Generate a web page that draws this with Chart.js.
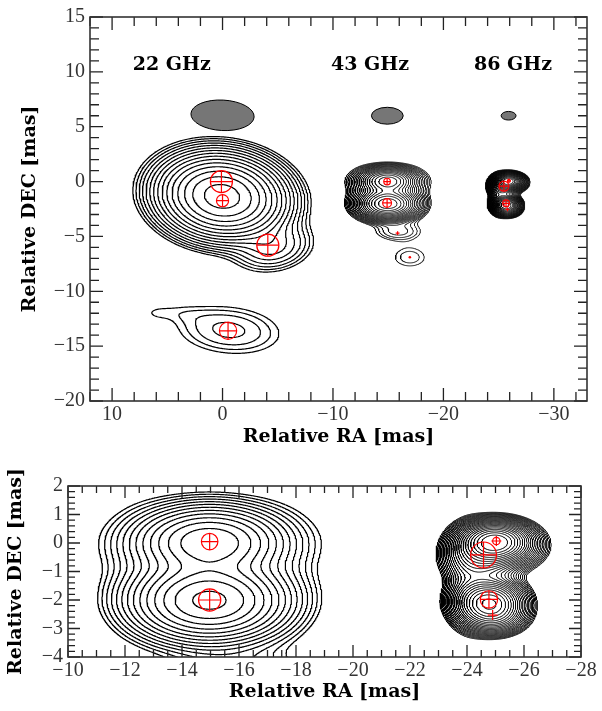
<!DOCTYPE html>
<html>
<head>
<meta charset="utf-8">
<script src="https://cdn.jsdelivr.net/npm/chart.js@4.4.1/dist/chart.umd.min.js"></script>
<style>
  body { margin: 0; background: #fff; }
  canvas { position: absolute; left: 0; }
</style>
</head>
<body>
<canvas id="topChart" width="602" height="460" style="top:0"></canvas>
<canvas id="bottomChart" width="602" height="251" style="top:460px"></canvas>
<script>
// ---- values ----

// tick labels
const topXTicks = [10, 0, -10, -20, -30];
const topYTicks = [15, 10, 5, 0, -5, -10, -15, -20];
const botXTicks = [-10, -12, -14, -16, -18, -20, -22, -24, -26, -28];
const botYTicks = [2, 1, 0, -1, -2, -3, -4];

// band labels and restoring beams (x, y, major, minor, pa) in mas / deg
const bandNames = ['22 GHz', '43 GHz', '86 GHz'];
const bandNameX = [4.6, -13.35, -26.3];
const bandNameY = [10.6, 10.6, 10.6];
const beams = [
    [0.0, 6.04, 5.73, 2.76, 3],
    [-14.92, 6.0, 2.88, 1.53, 0],
    [-25.9, 6.0, 1.35, 0.78, 0]
];

// brightness blobs: x, y, amplitude, sigma_major, sigma_minor, pa(deg)
const blobs22 = [
    [0.05, -1.35, 0.78, 2.55, 1.7, 7],
    [-4.6, -6.0, 0.03, 1.9, 1.15, -10],
    [-0.6, -13.55, 0.0158, 2.97, 1.37, 5],
    [4.0, -11.95, 0.0035, 2.0, 0.65, 5],
    [6.0, -12.0, 0.003, 0.9, 0.4, 0]
];
const blobs43 = [
    [-14.97, 0.02, 0.6, 1.2, 0.6, 0],
    [-14.96, -2.02, 1.0, 1.25, 0.66, 0],
    [-15.0, -1.0, 0.008, 2.0, 1.4, 0],
    [-15.0, 0.1, 0.02, 2.2, 0.7, 0],
    [-12.6, -1.0, 0.01, 0.9, 1.5, 0],
    [-17.4, -1.1, 0.01, 0.9, 1.5, 0],
    [-15.9, -4.55, 0.022, 1.5, 0.6, 0],
    [-16.96, -6.9, 0.015, 1.44, 0.87, 0]
];
const blobs86 = [
    [-25.0, 0.05, 1.0, 0.62, 0.36, 0],
    [-24.55, -0.45, 0.25, 0.7, 0.5, 0],
    [-24.77, -2.05, 0.7, 0.62, 0.4, 0],
    [-24.9, -2.55, 0.25, 0.6, 0.36, 0],
    [-25.9, -0.15, 0.06, 0.6, 0.45, 0],
    [-24.0, -1.2, 0.05, 0.45, 1.1, 0]
];
const blobs86Top = [
    [-25.9, 0.05, 1.0, 0.62, 0.36, 0],
    [-25.45, -0.45, 0.25, 0.7, 0.5, 0],
    [-25.67, -2.05, 0.7, 0.62, 0.4, 0],
    [-25.8, -2.55, 0.25, 0.6, 0.36, 0],
    [-26.8, -0.15, 0.06, 0.6, 0.45, 0],
    [-24.9, -1.2, 0.05, 0.45, 1.1, 0]
];

// contour levels
const levels22 = [0.005, 0.0071, 0.01, 0.0141, 0.02, 0.0283, 0.04, 0.0566, 0.08, 0.113, 0.16, 0.226, 0.32, 0.453, 0.64];
const levels43Top = [0.01, 0.0126, 0.0159, 0.02, 0.0252, 0.0317, 0.04, 0.0504, 0.0635, 0.08, 0.1008, 0.127, 0.16, 0.2016, 0.254, 0.32, 0.403, 0.508, 0.64, 0.806];
const levels43Bot = [0.01, 0.0141, 0.02, 0.0283, 0.04, 0.0566, 0.08, 0.113, 0.16, 0.226, 0.32, 0.453, 0.64, 0.905];
const levels86 = [0.02, 0.0238, 0.0283, 0.0336, 0.04, 0.0476, 0.0566, 0.0673, 0.08, 0.0951, 0.113, 0.1345, 0.16, 0.19, 0.226, 0.269, 0.32, 0.381, 0.453, 0.538, 0.64, 0.761, 0.905];

// model components: x, y, diameter (mas)
const comps22 = [[0.1, 0.0, 2.0], [0.0, -1.74, 1.1], [-4.1, -5.8, 2.0], [-0.5, -13.6, 1.56]];
const comps43Top = [[-14.9, 0.0, 0.6], [-14.9, -1.95, 0.8], [-15.85, -4.7, 0]];
const dots43Top = [[-16.96, -6.9]];
const comps86Top = [[-25.93, 0.07, 0.26], [-25.48, -0.42, 0.91], [-25.67, -1.98, 0.61], [-25.8, -2.53, 0]];
const comps43Bot = [[-14.97, 0.05, 0.58], [-14.97, -2.0, 0.78]];
const comps86Bot = [[-25.03, 0.07, 0.26], [-24.58, -0.42, 0.91], [-24.77, -1.98, 0.61], [-24.9, -2.53, 0]];

const RED = '#ff0000';
const CROSS_MIN = 0.35;

// ---- contouring ----
function fieldAt(blobs, x, y) {
    let v = 0;
    for (const [bx, by, amp, sx, sy, pa] of blobs) {
        const t = pa * Math.PI / 180, c = Math.cos(t), s = Math.sin(t);
        const dx = x - bx, dy = y - by;
        const u = dx * c + dy * s, w = -dx * s + dy * c;
        v += amp * Math.exp(-0.5 * (u * u / (sx * sx) + w * w / (sy * sy)));
    }
    return v;
}

const CASES = [null, [[3, 0]], [[0, 1]], [[3, 1]], [[1, 2]], 5, [[0, 2]], [[3, 2]],
    [[2, 3]], [[0, 2]], 10, [[1, 2]], [[1, 3]], [[0, 1]], [[0, 3]], null];

function traceLevel(g, nx, ny, x0, y0, h, L) {
    const pts = new Map();
    const point = key => {
        let p = pts.get(key);
        if (p) return p;
        const e = key % 2, id = (key - e) / 2;
        const i = id % nx, j = (id - i) / nx;
        const a = g[j * nx + i];
        if (e === 0) {
            const b = g[j * nx + i + 1];
            p = { x: x0 + (i + (L - a) / (b - a)) * h, y: y0 + j * h };
        } else {
            const b = g[(j + 1) * nx + i];
            p = { x: x0 + i * h, y: y0 + (j + (L - a) / (b - a)) * h };
        }
        pts.set(key, p);
        return p;
    };
    const segs = [];
    const adj = new Map();
    const add = (ka, kb) => {
        const s = segs.length;
        segs.push([ka, kb]);
        for (const k of [ka, kb]) {
            if (!adj.has(k)) adj.set(k, []);
            adj.get(k).push(s);
        }
    };
    for (let j = 0; j < ny - 1; j++) {
        for (let i = 0; i < nx - 1; i++) {
            const v00 = g[j * nx + i], v10 = g[j * nx + i + 1];
            const v01 = g[(j + 1) * nx + i], v11 = g[(j + 1) * nx + i + 1];
            const c = (v00 > L ? 1 : 0) | (v10 > L ? 2 : 0) | (v11 > L ? 4 : 0) | (v01 > L ? 8 : 0);
            if (c === 0 || c === 15) continue;
            const E = [(j * nx + i) * 2, (j * nx + i + 1) * 2 + 1, ((j + 1) * nx + i) * 2, (j * nx + i) * 2 + 1];
            let pairs = CASES[c];
            if (c === 5 || c === 10) {
                const mid = (v00 + v10 + v01 + v11) / 4 > L;
                pairs = (c === 5) === mid ? [[0, 1], [2, 3]] : [[3, 0], [1, 2]];
            }
            for (const [a, b] of pairs) add(E[a], E[b]);
        }
    }
    const used = new Uint8Array(segs.length);
    const walk = start => {
        const keys = [];
        let cur = start;
        for (;;) {
            let next = -1;
            for (const s of adj.get(cur)) if (!used[s]) { next = s; break; }
            if (next < 0) break;
            used[next] = 1;
            const [a, b] = segs[next];
            cur = a === cur ? b : a;
            keys.push(cur);
        }
        return keys;
    };
    const lines = [];
    for (let s = 0; s < segs.length; s++) {
        if (used[s]) continue;
        used[s] = 1;
        const [a, b] = segs[s];
        const fwd = walk(b);
        const bwd = walk(a).reverse();
        lines.push(bwd.concat([a, b], fwd).map(point));
    }
    return lines;
}

// box: [xmin, xmax, ymin, ymax, step]
function contourData(blobs, levels, box) {
    const [x0, x1, y0, y1, h] = box;
    const nx = Math.round((x1 - x0) / h) + 1, ny = Math.round((y1 - y0) / h) + 1;
    const g = new Float64Array(nx * ny);
    for (let j = 0; j < ny; j++)
        for (let i = 0; i < nx; i++)
            g[j * nx + i] = fieldAt(blobs, x0 + i * h, y0 + j * h);
    const out = [];
    levels.forEach(L => {
        traceLevel(g, nx, ny, x0, y0, h, L).forEach(line => {
            line.forEach(p => out.push(p));
            out.push({ x: null, y: null });
        });
    });
    return out;
}

function contourSet(blobs, levels, box, width) {
    return {
        data: contourData(blobs, levels, box),
        showLine: true,
        spanGaps: false,
        pointRadius: 0,
        borderColor: '#000',
        borderWidth: width,
        borderJoinStyle: 'round'
    };
}

// ---- model component markers ----
const masToPx = chart => Math.abs(chart.scales.x.getPixelForValue(1) - chart.scales.x.getPixelForValue(0));

function componentSets(comps, dots) {
    return [
        {
            data: comps.filter(c => c[2] > 0).map(([x, y, d]) => ({ x, y, d })),
            pointStyle: 'circle',
            pointRadius: ctx => ctx.raw ? ctx.raw.d / 2 * masToPx(ctx.chart) : 0,
            pointBorderColor: RED,
            pointBackgroundColor: 'rgba(0,0,0,0)',
            pointBorderWidth: 1.2
        },
        {
            data: comps.map(([x, y, d]) => ({ x, y, d: Math.max(d, CROSS_MIN) })),
            pointStyle: 'cross',
            pointRadius: ctx => ctx.raw ? ctx.raw.d / 2 * masToPx(ctx.chart) : 0,
            pointBorderColor: RED,
            pointBorderWidth: 1.2
        },
        {
            data: dots.map(([x, y]) => ({ x, y })),
            pointStyle: 'circle',
            pointRadius: 1.3,
            pointBorderWidth: 0,
            pointBackgroundColor: RED
        }
    ];
}

// ---- frame, inward ticks, beams, labels ----
const frameTicks = {
    id: 'frameTicks',
    beforeDatasetsDraw(chart, args, o) {
        const { ctx } = chart;
        const xs = chart.scales.x, ys = chart.scales.y;
        const k = masToPx(chart);
        ctx.save();
        (o.beams || []).forEach(([bx, by, maj, min, pa]) => {
            ctx.beginPath();
            ctx.ellipse(xs.getPixelForValue(bx), ys.getPixelForValue(by), maj / 2 * k, min / 2 * k,
                pa * Math.PI / 180, 0, 2 * Math.PI);
            ctx.fillStyle = '#767676';
            ctx.fill();
            ctx.lineWidth = 1;
            ctx.strokeStyle = '#000';
            ctx.stroke();
        });
        (o.names || []).forEach((t, i) => {
            ctx.font = 'bold 19px "DejaVu Serif"';
            ctx.fillStyle = '#000';
            ctx.textAlign = 'center';
            ctx.textBaseline = 'middle';
            ctx.fillText(t, xs.getPixelForValue(o.nameX[i]), ys.getPixelForValue(o.nameY[i]));
        });
        ctx.restore();
    },
    afterDatasetsDraw(chart, args, o) {
        const { ctx, chartArea: { left, right, top, bottom } } = chart;
        const xs = chart.scales.x, ys = chart.scales.y;
        const each = (scale, minor, major, fn) => {
            const lo = Math.min(scale.min, scale.max), hi = Math.max(scale.min, scale.max);
            for (let n = Math.ceil(lo / minor - 1e-6); n * minor <= hi + 1e-6; n++) {
                const v = n * minor;
                const isMajor = Math.abs(v / major - Math.round(v / major)) < 1e-6;
                fn(scale.getPixelForValue(v), isMajor ? o.majorLen : o.minorLen);
            }
        };
        ctx.save();
        ctx.beginPath();
        each(xs, o.xMinor, o.xMajor, (p, len) => {
            ctx.moveTo(p, bottom); ctx.lineTo(p, bottom - len);
            ctx.moveTo(p, top); ctx.lineTo(p, top + len);
        });
        each(ys, o.yMinor, o.yMajor, (p, len) => {
            ctx.moveTo(left, p); ctx.lineTo(left + len, p);
            ctx.moveTo(right, p); ctx.lineTo(right - len, p);
        });
        ctx.lineWidth = 1.3;
        ctx.strokeStyle = '#222';
        ctx.stroke();
        ctx.lineWidth = 1.6;
        ctx.strokeStyle = '#333';
        ctx.strokeRect(left, top, right - left, bottom - top);
        ctx.restore();
    }
};

const fmt = v => (v < 0 ? '\u2212' + (-v) : String(v));

function axis(opts) {
    return {
        type: 'linear',
        min: opts.min,
        max: opts.max,
        reverse: !!opts.reverse,
        afterFit: opts.fit,
        afterBuildTicks: s => { s.ticks = opts.ticks.map(v => ({ value: v })); },
        grid: { display: false, drawTicks: false },
        border: { display: false },
        ticks: {
            autoSkip: false,
            maxRotation: 0,
            padding: opts.pad,
            color: '#333',
            font: { family: 'Liberation Serif', size: 20 },
            callback: v => fmt(v)
        },
        title: {
            display: true,
            text: opts.title,
            color: '#000',
            font: { family: 'DejaVu Serif', size: 19, weight: 'bold' },
            padding: opts.titlePad
        }
    };
}

const baseOptions = {
    responsive: false,
    animation: false,
    events: []
};

new Chart(document.getElementById('topChart'), {
    type: 'scatter',
    data: {
        datasets: [
            ...componentSets(comps22.concat(comps43Top, comps86Top), dots43Top),
            contourSet(blobs22, levels22, [-10.5, 11, -17.5, 5.5, 0.1], 1.2),
            contourSet(blobs43, levels43Top, [-20.5, -9.5, -9, 3.5, 0.05], 0.9),
            contourSet(blobs86Top, levels86, [-29, -22.5, -4.5, 2.5, 0.025], 0.8)
        ]
    },
    options: {
        ...baseOptions,
        layout: { padding: { top: 14, right: 15, left: 0, bottom: 0 } },
        plugins: {
            legend: { display: false },
            tooltip: { enabled: false },
            frameTicks: {
                beams: beams, names: bandNames, nameX: bandNameX, nameY: bandNameY,
                xMinor: 2, xMajor: 10, yMinor: 1, yMajor: 5, majorLen: 13, minorLen: 9
            }
        },
        scales: {
            x: axis({ min: -33, max: 12, reverse: true, ticks: topXTicks, pad: 2,
                fit: s => { s.height = 59; }, title: 'Relative RA [mas]', titlePad: { top: 0, bottom: 12 } }),
            y: axis({ min: -20, max: 15, ticks: topYTicks, pad: 5,
                fit: s => { s.width = 90; }, title: 'Relative DEC [mas]', titlePad: { top: 19, bottom: 0 } })
        }
    },
    plugins: [frameTicks]
});

new Chart(document.getElementById('bottomChart'), {
    type: 'scatter',
    data: {
        datasets: [
            ...componentSets(comps43Bot.concat(comps86Bot), []),
            contourSet(blobs43, levels43Bot, [-20.5, -9.5, -4.6, 2.6, 0.025], 1.2),
            contourSet(blobs86, levels86, [-27.8, -22.2, -4.2, 2.2, 0.02], 1.0)
        ]
    },
    options: {
        ...baseOptions,
        layout: { padding: { top: 26, right: 21, left: 0, bottom: 0 } },
        plugins: {
            legend: { display: false },
            tooltip: { enabled: false },
            frameTicks: { xMinor: 0.5, xMajor: 2, yMinor: 0.2, yMajor: 1, majorLen: 12, minorLen: 7 }
        },
        scales: {
            x: axis({ min: -28, max: -10, reverse: true, ticks: botXTicks, pad: 2,
                fit: s => { s.height = 54; }, title: 'Relative RA [mas]', titlePad: { top: 0, bottom: 8 } }),
            y: axis({ min: -4, max: 2, ticks: botYTicks, pad: 5,
                fit: s => { s.width = 68; }, title: 'Relative DEC [mas]', titlePad: { top: 5, bottom: 0 } })
        }
    },
    plugins: [frameTicks]
});
</script>
</body>
</html>
